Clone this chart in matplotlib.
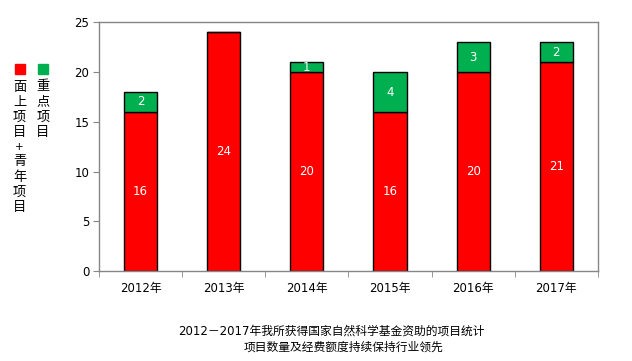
import matplotlib
matplotlib.use('Agg')
import matplotlib.pyplot as plt
import numpy as np

plt.rcParams['font.family'] = ['DejaVu Sans', 'Noto Sans CJK SC']

years = ['2012年', '2013年', '2014年', '2015年', '2016年', '2017年']
general_youth = [16, 24, 20, 16, 20, 21]
key_projects = [2, 0, 1, 4, 3, 2]
legend_labels = ['面上项目+青年项目', '重点项目']
title_lines = ['2012－2017年我所获得国家自然科学基金资助的项目统计',
               '项目数量及经费额度持续保持行业领先']

RED = '#ff0000'
GREEN = '#00b050'
GRAY = '#868686'
W, H = 632, 361

fig = plt.figure(figsize=(6.32, 3.61), dpi=100)
ax = fig.add_axes([0.1566, 0.249, 0.7894, 0.689])

x = np.arange(len(years))
ax.bar(x, general_youth, width=0.4, color=RED, edgecolor='black', linewidth=1.0)
ax.bar(x, key_projects, width=0.4, bottom=general_youth, color=GREEN,
       edgecolor='black', linewidth=1.0)

for xi, r, g in zip(x, general_youth, key_projects):
    ax.text(xi, r / 2, str(r), ha='center', va='center', color='white', fontsize=8.5)
    if g > 0:
        ax.text(xi, r + g / 2, str(g), ha='center', va='center', color='white', fontsize=8.5)

ax.set_xlim(-0.5, len(years) - 0.5)
ax.set_ylim(0, 25)
ax.set_yticks(range(0, 26, 5))
ax.set_xticks(x)
ax.set_xticklabels(years)
ax.set_xticks(np.arange(-0.5, len(years)), minor=True)
ax.tick_params(axis='x', which='major', length=0, pad=8, labelsize=8.5)
ax.tick_params(axis='x', which='minor', length=4, color=GRAY, direction='out')
ax.tick_params(axis='y', length=4, color=GRAY, direction='out', labelsize=8.5, pad=3)
for s in ax.spines.values():
    s.set_color(GRAY)
    s.set_linewidth(1.0)

# legend: colored squares with one character per row underneath (pixel layout)
for xpx, col, lab in [(19.5, RED, legend_labels[0]), (43.0, GREEN, legend_labels[1])]:
    fig.patches.append(plt.Rectangle(((xpx - 5) / W, 1 - 74 / H), 10 / W, 10 / H,
                                     transform=fig.transFigure, color=col))
    for i, ch in enumerate(lab):
        fig.text(xpx / W, 1 - (87 + 15 * i) / H, ch, ha='center', va='center',
                 fontsize=9.5 if ch != '+' else 7.5)

fig.text(0.524, 0.083, title_lines[0], ha='center', va='center', fontsize=8.5)
fig.text(0.544, 0.038, title_lines[1], ha='center', va='center', fontsize=8.5)

fig.savefig('out.png', dpi=100)
